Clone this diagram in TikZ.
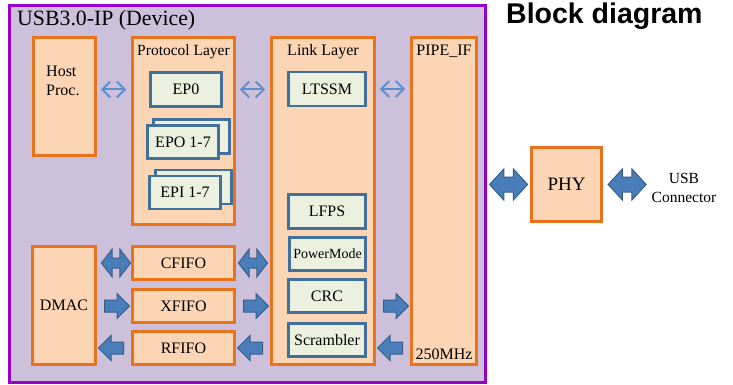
\documentclass[tikz,border=0pt]{standalone}
\usepackage{fontspec}
\setmainfont{Liberation Serif}
\newfontfamily\headfont{Liberation Sans}
\usetikzlibrary{shapes.arrows,arrows.meta,calc}

\begin{document}
\begin{tikzpicture}[x=1pt,y=-1pt,
    layer/.style={draw=orangeline, fill=peach, line width=2.6pt, inner sep=0pt},
    unit/.style={draw=unitblue, fill=unitfill, line width=2.6pt, inner sep=0pt,
        minimum width=77pt, minimum height=34pt, font=\fontsize{16}{19}\selectfont},
    txt/.style={inner sep=0pt, font=\fontsize{16}{19}\selectfont},
    thinlink/.style={{Straight Barb[length=8pt,width=16pt]}-{Straight Barb[length=8pt,width=16pt]},
        line width=2pt, draw=linkblue, shorten <=4pt, shorten >=5pt},
    sarrow/.style={single arrow, draw=arrowline, fill=arrowfill, line width=1pt,
        inner xsep=0pt, inner ysep=5.5pt, single arrow head extend=6.5pt, minimum height=25pt},
    darrow/.style={double arrow, draw=arrowline, fill=arrowfill, line width=1pt,
        inner xsep=0pt, inner ysep=4.5pt, double arrow head extend=9pt,
        double arrow tip angle=105, minimum height=29pt},
    bigdarrow/.style={darrow, inner ysep=7pt, double arrow head extend=8pt,
        double arrow tip angle=95, minimum height=38pt}
]
    % Colours of the slide
    \definecolor{lavender}{RGB}{204,192,218}
    \definecolor{ipframe}{RGB}{153,0,204}
    \definecolor{orangeline}{RGB}{232,115,28}
    \definecolor{peach}{RGB}{252,213,181}
    \definecolor{unitblue}{RGB}{65,112,156}
    \definecolor{unitfill}{RGB}{235,241,222}
    \definecolor{linkblue}{RGB}{91,143,208}
    \definecolor{arrowfill}{RGB}{74,126,187}
    \definecolor{arrowline}{RGB}{56,93,138}

    \useasboundingbox (0,0) rectangle (733,385);

    % The IP frame and the headings
    \node[draw=ipframe, fill=lavender, line width=2.8pt, minimum width=476pt, minimum height=377pt] (ip) at (247.5,194) {};
    \node[anchor=base west, inner sep=0pt, font=\fontsize{21.8}{25}\selectfont] (iptitle) at (17,26) {USB3.0-IP (Device)};
    \node[anchor=base west, inner sep=0pt, font=\headfont\bfseries\fontsize{28.5}{33}\selectfont] (heading) at (506,24) {Block diagram};

    % Host processor
    \node[layer, minimum width=62pt, minimum height=118pt] (host) at (64.5,96.5) {};
    \node[txt, align=left, anchor=north west] (hosttxt) at (46,66) {Host\\Proc.};

    % Protocol layer with its end points
    \node[layer, minimum width=102pt, minimum height=187pt] (proto) at (183.5,131) {};
    \node[txt, anchor=base, font=\fontsize{15.5}{19}\selectfont] (prototxt) at ([yshift=-19pt]proto.north) {Protocol Layer};
    \node[unit, minimum width=71pt] (ep0) at (186,89.5) {EP0};
    \node[unit, minimum width=76pt] (epoback) at (191.5,136.5) {};
    \node[unit, minimum width=71pt, minimum height=33pt] (epo) at (183,142) {EPO 1-7};
    \node[unit, minimum width=76pt] (epiback) at (193.5,187) {};
    \node[unit, minimum width=71pt, minimum height=33pt] (epi) at (185,192.5) {EPI 1-7};

    % Link layer
    \node[layer, minimum width=103pt, minimum height=327pt] (link) at (323,201) {};
    \node[txt, anchor=base] (linktxt) at ([yshift=-19pt]link.north) {Link Layer};
    \node[unit] (ltssm) at (327,89) {LTSSM};
    \node[unit] (lfps) at (327,211.5) {LFPS};
    \node[unit, minimum width=76pt, minimum height=33pt, font=\fontsize{14}{17}\selectfont] (pwr) at (327.5,254) {PowerMode};
    \node[unit, minimum height=33pt] (crc) at (327,296) {CRC};
    \node[unit, minimum height=33pt] (scr) at (327,340) {Scrambler};

    % PIPE interface
    \node[layer, minimum width=65pt, minimum height=327pt] (pipe) at (444,201) {};
    \node[txt, anchor=base] (pipetxt) at ([yshift=-19pt]pipe.north) {PIPE\_IF};
    \node[txt, anchor=base] (clk) at ([yshift=6.5pt]pipe.south) {250MHz};

    % FIFOs and DMA
    \node[layer, minimum width=102pt, minimum height=33pt, font=\fontsize{16}{19}\selectfont] (cfifo) at (183.5,263) {CFIFO};
    \node[layer, minimum width=102pt, minimum height=33pt, font=\fontsize{16}{19}\selectfont] (xfifo) at (183.5,306) {XFIFO};
    \node[layer, minimum width=102pt, minimum height=33pt, font=\fontsize{16}{19}\selectfont] (rfifo) at (183.5,348) {RFIFO};
    \node[layer, minimum width=63pt, minimum height=118pt, font=\fontsize{16}{19}\selectfont] (dmac) at (64,305.5) {DMAC};

    % PHY and connector
    \node[layer, minimum width=70pt, minimum height=74pt, font=\fontsize{19}{22}\selectfont] (phy) at (566.5,184.5) {PHY};
    \node[txt, align=center, anchor=north, font=\fontsize{15.5}{19}\selectfont] (usb) at (684,173.5) {USB\\Connector};

    % Thin links between the layers
    \draw[thinlink] (host.east |- ep0) -- (proto.west |- ep0);
    \draw[thinlink] (proto.east |- ep0) -- (link.west |- ep0);
    \draw[thinlink] (link.east |- ltssm) -- (pipe.west |- ltssm);

    % Data path arrows
    \node[darrow, xshift=2pt] (dmaccf) at ($(dmac.east |- cfifo)!0.5!(cfifo.west)$) {};
    \node[darrow] (cflink) at ($(cfifo.east)!0.5!(link.west |- cfifo)$) {};
    \node[sarrow] (dmacx) at ($(dmac.east |- xfifo)!0.5!(xfifo.west)$) {};
    \node[sarrow] (xlink) at ($(xfifo.east)!0.5!(link.west |- xfifo)$) {};
    \node[sarrow, shape border rotate=180] (rdmac) at ($(dmac.east |- rfifo)!0.5!(rfifo.west)$) {};
    \node[sarrow, shape border rotate=180] (linkr) at ($(rfifo.east)!0.5!(link.west |- rfifo)$) {};
    \node[sarrow] (crcpipe) at ($(link.east |- xfifo)!0.5!(pipe.west |- xfifo)$) {};
    \node[sarrow, shape border rotate=180] (pipescr) at ($(link.east |- rfifo)!0.5!(pipe.west |- rfifo)$) {};
    \node[bigdarrow] (ipphy) at ($(ip.east |- phy)!0.5!(phy.west)$) {};
    \node[bigdarrow] (phyusb) at ($(phy.east)!0.5!(usb.west |- phy)$) {};
\end{tikzpicture}
\end{document}
